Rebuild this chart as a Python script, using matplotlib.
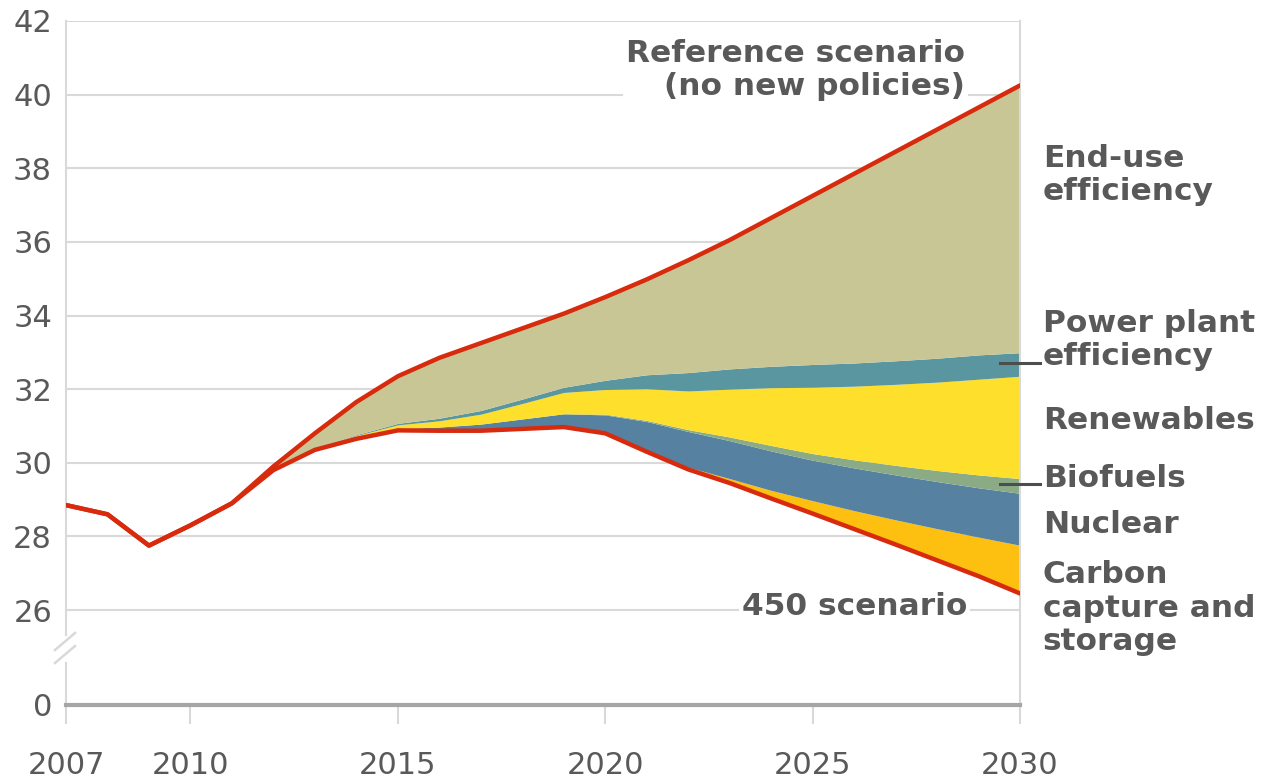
import numpy as np
import matplotlib
matplotlib.use("Agg")
import matplotlib.pyplot as plt

# ---------------- data ----------------
years = [2007, 2008, 2009, 2010, 2011, 2012, 2013, 2014, 2015, 2016, 2017, 2018,
         2019, 2020, 2021, 2022, 2023, 2024, 2025, 2026, 2027, 2028, 2029, 2030]

reference = [28.85, 28.6, 27.75, 28.3, 28.9, 29.9, 30.8, 31.65, 32.35, 32.85, 33.25, 33.65,
             34.05, 34.5, 34.98, 35.5, 36.05, 36.65, 37.25, 37.85, 38.45, 39.05, 39.65, 40.25]

scen450 = [28.85, 28.6, 27.75, 28.3, 28.9, 29.8, 30.35, 30.65, 30.88, 30.87, 30.87, 30.92,
           30.97, 30.8, 30.3, 29.82, 29.45, 29.03, 28.62, 28.2, 27.78, 27.35, 26.92, 26.45]

ccs = [0, 0, 0, 0, 0, 0, 0, 0, 0, 0, 0, 0,
       0, 0, 0.02, 0.06, 0.12, 0.22, 0.35, 0.5, 0.67, 0.86, 1.06, 1.31]
nuclear = [0, 0, 0, 0, 0, 0, 0.01, 0.02, 0.05, 0.1, 0.18, 0.27,
           0.36, 0.5, 0.8, 0.97, 1.03, 1.07, 1.1, 1.16, 1.22, 1.28, 1.34, 1.41]
biofuels = [0, 0, 0, 0, 0, 0, 0, 0, 0, 0, 0, 0,
            0, 0.02, 0.03, 0.05, 0.1, 0.15, 0.18, 0.22, 0.26, 0.3, 0.35, 0.4]
renewables = [0, 0, 0, 0, 0, 0, 0.03, 0.07, 0.1, 0.17, 0.27, 0.42,
              0.58, 0.67, 0.86, 1.05, 1.3, 1.57, 1.8, 2.0, 2.2, 2.4, 2.6, 2.78]
power_plant = [0, 0, 0, 0, 0, 0, 0.01, 0.02, 0.04, 0.07, 0.1, 0.12,
               0.14, 0.25, 0.38, 0.5, 0.55, 0.58, 0.62, 0.63, 0.64, 0.65, 0.66, 0.64]

wedge_names = ["Carbon\ncapture and\nstorage", "Nuclear", "Biofuels", "Renewables",
               "Power plant\nefficiency", "End-use\nefficiency"]

x_ticks = [2007, 2010, 2015, 2020, 2025, 2030]
y_ticks = [0, 26, 28, 30, 32, 34, 36, 38, 40, 42]

# ---------------- style ----------------
TEXT = "#595959"
GRID = "#d9d9d9"
RED = "#d82a0c"
C_END = "#c9c696"
C_PP = "#5a96a0"
C_REN = "#fddf2c"
C_BIO = "#8aab85"
C_NUC = "#5681a0"
C_CCS = "#fdbf10"

plt.rcParams["font.family"] = ["DejaVu Sans"]

fig = plt.figure(figsize=(12.68, 7.8), dpi=100)
ax = fig.add_axes([66 / 1268, 75 / 780, 954 / 1268, 684 / 780])

# broken y scale: values below 26 are compressed
BREAK = 26.0
K = 2.58 / 26.0


def fwd(y):
    y = np.asarray(y, dtype=float)
    return np.where(y >= BREAK, y, BREAK - (BREAK - y) * K)


def inv(y):
    y = np.asarray(y, dtype=float)
    return np.where(y >= BREAK, y, BREAK - (BREAK - y) / K)


ax.set_yscale("function", functions=(fwd, inv))

yrs = np.array(years, dtype=float)
b0 = np.array(scen450)
layers = [ccs, nuclear, biofuels, renewables, power_plant]
colors = [C_CCS, C_NUC, C_BIO, C_REN, C_PP]
bottom = b0.copy()
for vals, col in zip(layers, colors):
    top = bottom + np.array(vals)
    ax.fill_between(yrs, bottom, top, color=col, linewidth=0, zorder=2)
    bottom = top
ax.fill_between(yrs, bottom, np.array(reference), color=C_END, linewidth=0, zorder=2)

ax.plot(yrs, reference, color=RED, lw=3.2, zorder=4, solid_capstyle="round",
        solid_joinstyle="round")
ax.plot(yrs, scen450, color=RED, lw=3.2, zorder=4, solid_capstyle="round",
        solid_joinstyle="round")

ax.set_xlim(2007, 2030)
ax.set_ylim(0, 42)
ax.set_xticks(x_ticks)
ax.set_yticks(y_ticks)
ax.set_xticklabels([str(t) for t in x_ticks])
ax.set_yticklabels([str(t) for t in y_ticks])

ax.grid(axis="y", color=GRID, lw=1.5, zorder=0)
ax.set_axisbelow(True)
ax.tick_params(axis="y", length=0, pad=10, labelsize=22, labelcolor=TEXT)
ax.tick_params(axis="x", length=14, width=1.5, color=GRID, pad=19, labelsize=22,
               labelcolor=TEXT)

ax.spines["top"].set_visible(False)
ax.spines["right"].set_color(GRID)
ax.spines["right"].set_linewidth(1.5)
ax.spines["bottom"].set_color("#a6a6a6")
ax.spines["bottom"].set_linewidth(3)
ax.spines["left"].set_visible(False)


# left axis line with break marks (axes fraction from pixel rows)
def yfrac(pix):
    return (705 - pix) / 684.0


ax.plot([0, 0], [yfrac(610), 1], color=GRID, lw=1.5, transform=ax.transAxes,
        clip_on=False)
ax.plot([0, 0], [yfrac(610), yfrac(635)], color=GRID, lw=1.5, transform=ax.transAxes,
        clip_on=False)
ax.plot([0, 0], [yfrac(663), 0], color=GRID, lw=1.5, transform=ax.transAxes,
        clip_on=False)
for p0 in (650, 663):
    ax.plot([-11 / 954, 9 / 954], [yfrac(p0), yfrac(p0 - 17)], color=GRID, lw=1.8,
            transform=ax.transAxes, clip_on=False)

# ---------------- labels ----------------
lab_kw = dict(fontsize=22.5, fontweight="bold", color=TEXT, linespacing=1.2)
xl = 2030.55
label_y = [26.05, 28.33, 29.58, 31.16, 33.33, 37.82]
for name, yv in zip(wedge_names, label_y):
    ax.text(xl, yv, name, ha="left", va="center", clip_on=False, **lab_kw)

ax.text(2028.67, 40.67, "Reference scenario\n(no new policies)", ha="right",
        va="center", multialignment="right", zorder=5,
        bbox=dict(facecolor="white", edgecolor="none", pad=2), **lab_kw)
ax.text(2028.72, 26.1, "450 scenario", ha="right", va="center", zorder=5,
        bbox=dict(facecolor="white", edgecolor="none", pad=2), **lab_kw)

# leader lines
for yv in (32.71, 29.42):
    ax.plot([2029.52, 2030.48], [yv, yv], color="#4d4d4d", lw=2.2, clip_on=False,
            zorder=6)

fig.savefig("out.png", dpi=100, facecolor="white")
